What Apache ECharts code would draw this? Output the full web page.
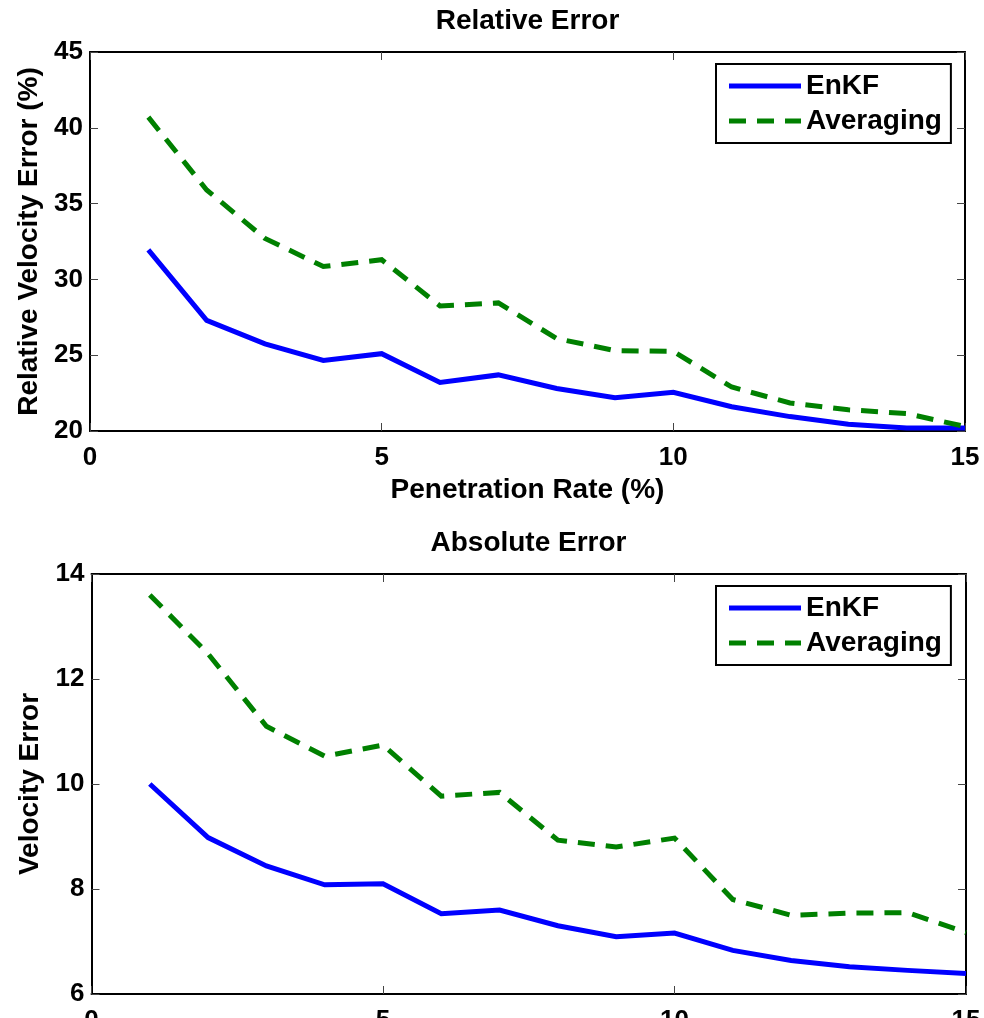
<!DOCTYPE html>
<html>
<head>
<meta charset="utf-8">
<script src="https://cdn.jsdelivr.net/npm/echarts@6/dist/echarts.min.js"></script>
<style>
html,body{margin:0;padding:0;background:#fff;}
#chart{width:984px;height:1018px;}
</style>
</head>
<body>
<div id="chart"></div>
<script>
// ---- data ----
const penetration = [1, 2, 3, 4, 5, 6, 7, 8, 9, 10, 11, 12, 13, 14, 15];
const enkfRelative = [31.95, 27.3, 25.75, 24.65, 25.1, 23.2, 23.7, 22.8, 22.2, 22.55, 21.6, 20.95, 20.45, 20.2, 20.2];
const avgRelative  = [40.7, 35.9, 32.7, 30.85, 31.3, 28.25, 28.45, 26.1, 25.3, 25.25, 22.9, 21.85, 21.4, 21.15, 20.3];
const enkfAbsolute = [10.0, 8.98, 8.44, 8.08, 8.1, 7.53, 7.6, 7.3, 7.09, 7.16, 6.83, 6.64, 6.52, 6.45, 6.39];
const avgAbsolute  = [13.6, 12.48, 11.1, 10.53, 10.74, 9.77, 9.84, 8.93, 8.8, 8.97, 7.8, 7.5, 7.54, 7.55, 7.17];
const xTicks = { min: 0, max: 15, interval: 5 };
const relTicks = { min: 20, max: 45, interval: 5 };
const absTicks = { min: 6, max: 14, interval: 2 };
const seriesNames = ['EnKF', 'Averaging'];
const titles = ['Relative Error', 'Absolute Error'];
const xAxisName = 'Penetration Rate (%)';
const yNames = ['Relative Velocity Error (%)', 'Velocity Error'];

const FONT = "'Liberation Sans', Arial, Helvetica, sans-serif";
const pairs = (xs, ys) => xs.map((x, i) => [x, ys[i]]);

const grids = [
  { left: 90, top: 52, width: 875, height: 379, outerBoundsMode: 'none', containLabel: false },
  { left: 91.5, top: 574, width: 874.5, height: 420, outerBoundsMode: 'none', containLabel: false }
];

function axisBase(extra) {
  return Object.assign({
    type: 'value',
    axisLine: { show: true, onZero: false, lineStyle: { color: '#000', width: 2 } },
    axisTick: { show: true, inside: true, length: 8, lineStyle: { color: '#444', width: 1 } },
    splitLine: { show: false },
    axisLabel: { show: true, color: '#000', fontFamily: FONT, fontWeight: 'bold', fontSize: 26 }
  }, extra);
}

const xAxes = [];
const yAxes = [];
[0, 1].forEach(g => {
  xAxes.push(axisBase({
    gridIndex: g, position: 'bottom', min: xTicks.min, max: xTicks.max, interval: xTicks.interval,
    name: g === 0 ? xAxisName : '', nameLocation: 'middle', nameGap: 45,
    nameTextStyle: { color: '#000', fontFamily: FONT, fontWeight: 'bold', fontSize: 28 },
    axisLabel: { show: true, color: '#000', fontFamily: FONT, fontWeight: 'bold', fontSize: 26, margin: 14 }
  }));
  xAxes.push(axisBase({
    gridIndex: g, position: 'top', min: xTicks.min, max: xTicks.max, interval: xTicks.interval,
    axisLabel: { show: false }
  }));
  const yt = g === 0 ? relTicks : absTicks;
  yAxes.push(axisBase({
    gridIndex: g, position: 'left', min: yt.min, max: yt.max, interval: yt.interval,
    name: yNames[g], nameLocation: 'middle', nameGap: 47, nameRotate: 90,
    nameTextStyle: { color: '#000', fontFamily: FONT, fontWeight: 'bold', fontSize: 28 },
    axisLabel: { show: true, color: '#000', fontFamily: FONT, fontWeight: 'bold', fontSize: 26, margin: 7,
                 padding: [6, 0, 0, 0] }
  }));
  yAxes.push(axisBase({
    gridIndex: g, position: 'right', min: yt.min, max: yt.max, interval: yt.interval,
    axisLabel: { show: false }
  }));
});

function lineSeries(name, data, g, dashed) {
  return {
    type: 'line', name: name, data: data,
    xAxisIndex: g * 2, yAxisIndex: g * 2,
    symbol: 'none', showSymbol: false, smooth: false, silent: true,
    lineStyle: dashed
      ? { color: '#008000', width: 5, type: [17, 11], cap: 'butt', join: 'miter' }
      : { color: '#0000ff', width: 5, type: 'solid', cap: 'butt', join: 'miter' },
    itemStyle: { color: dashed ? '#008000' : '#0000ff' },
    animation: false
  };
}

const series = [
  lineSeries(seriesNames[0], pairs(penetration, enkfRelative), 0, false),
  lineSeries(seriesNames[1], pairs(penetration, avgRelative), 0, true),
  lineSeries(seriesNames[0], pairs(penetration, enkfAbsolute), 1, false),
  lineSeries(seriesNames[1], pairs(penetration, avgAbsolute), 1, true)
];

const solidIcon = 'path://M0,0h72v5h-72z';
const dashIcon = 'path://M0,0h17v5h-17z M28,0h17v5h-17z M56,0h16v5h-16z';

function legendAt(top) {
  return {
    orient: 'vertical', left: 716, top: top,
    data: [
      { name: seriesNames[0], icon: solidIcon, itemStyle: { color: '#0000ff', borderWidth: 0 } },
      { name: seriesNames[1], icon: dashIcon, itemStyle: { color: '#008000', borderWidth: 0 } }
    ],
    itemWidth: 72, itemHeight: 5, itemGap: 7,
    symbolKeepAspect: false,
    padding: [8, 9, 8, 13],
    borderColor: '#000', borderWidth: 2, backgroundColor: '#fff',
    selectedMode: false,
    textStyle: { color: '#000', fontFamily: FONT, fontWeight: 'bold', fontSize: 28, lineHeight: 28 }
  };
}

const option = {
  animation: false,
  backgroundColor: '#fff',
  title: [
    { text: titles[0], left: 527.5, top: 7, textAlign: 'center', padding: 0,
      textStyle: { color: '#000', fontFamily: FONT, fontWeight: 'bold', fontSize: 28, lineHeight: 28 } },
    { text: titles[1], left: 528.5, top: 529, textAlign: 'center', padding: 0,
      textStyle: { color: '#000', fontFamily: FONT, fontWeight: 'bold', fontSize: 28, lineHeight: 28 } }
  ],
  legend: [legendAt(64), legendAt(586)],
  grid: grids,
  xAxis: xAxes,
  yAxis: yAxes,
  series: series
};

const chart = echarts.init(document.getElementById('chart'), null, { renderer: 'canvas' });
chart.setOption(option);
</script>
</body>
</html>
